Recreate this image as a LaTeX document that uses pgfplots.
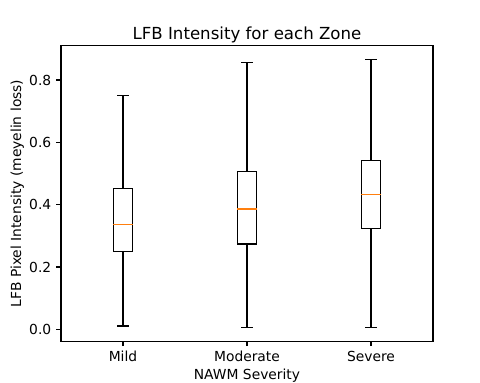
\documentclass[border=0pt]{standalone}
\usepackage{pgfplots}
\pgfplotsset{compat=1.18}
\usepgfplotslibrary{statistics}
\usepackage{fontspec}
\setmainfont{DejaVu Sans}
\definecolor{mplorange}{HTML}{FF7F0E}
\begin{document}
\begin{tikzpicture}
\path[use as bounding box] (-43.92bp,-30.02bp) rectangle (301.68bp,245.74bp);
\begin{axis}[
  at={(0,0)}, anchor=south west,
  scale only axis,
  width=267.84bp, height=212.8bp,
  xmin=0.5, xmax=3.5,
  ymin=-0.0385, ymax=0.910,
  xtick={1,2,3},
  xticklabels={Mild,Moderate,Severe},
  ytick={0,0.2,0.4,0.6,0.8},
  yticklabel style={/pgf/number format/.cd, fixed, fixed zerofill, precision=1},
  /pgf/number format/assume math mode=true,
  tick align=outside,
  xtick pos=bottom, ytick pos=left,
  major tick length=3.5bp,
  tick style={black, line width=0.8bp},
  axis line style={line width=0.8bp},
  ticklabel style={font=\fontsize{10}{12}\selectfont},
  title={LFB Intensity for each Zone},
  title style={font=\fontsize{12}{14}\selectfont, yshift=-7.5bp},
  xlabel={NAWM Severity},
  ylabel={LFB Pixel Intensity (meyelin loss)},
  label style={font=\fontsize{10}{12}\selectfont},
  xlabel style={yshift=2bp},
  ylabel style={yshift=-3bp},
  boxplot/draw direction=y,
  boxplot/every box/.style={draw=black, line width=1bp, fill=none},
  boxplot/every whisker/.style={draw=black, line width=1bp},
  boxplot/every median/.style={draw=mplorange, line width=1bp},
]
\addplot[black, solid, line width=1bp, mark=none, boxplot prepared={draw position=1, lower whisker=0.011, lower quartile=0.250, median=0.337, upper quartile=0.451, upper whisker=0.750, box extend=0.155, whisker extend=0.09}] coordinates {};
\addplot[black, solid, line width=1bp, mark=none, boxplot prepared={draw position=2, lower whisker=0.005, lower quartile=0.274, median=0.386, upper quartile=0.506, upper whisker=0.857, box extend=0.155, whisker extend=0.09}] coordinates {};
\addplot[black, solid, line width=1bp, mark=none, boxplot prepared={draw position=3, lower whisker=0.005, lower quartile=0.324, median=0.432, upper quartile=0.541, upper whisker=0.865, box extend=0.155, whisker extend=0.09}] coordinates {};
\end{axis}
\end{tikzpicture}
\end{document}
